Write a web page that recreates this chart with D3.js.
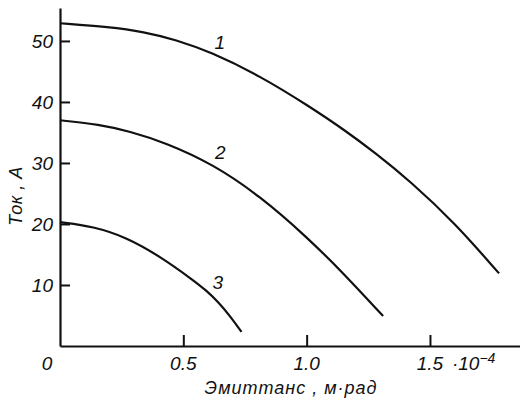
<!DOCTYPE html>
<html>
<head>
<meta charset="utf-8">
<script src="https://cdn.jsdelivr.net/npm/d3@7"></script>
<style>
  body { margin: 0; background: #fff; }
  text { font-family: "Liberation Sans", Arial, sans-serif; font-style: italic; fill: #111; }
</style>
</head>
<body>
<div id="chart"></div>
<script>
// curve 1
const emittance1 = [0, 0.20, 0.34, 0.47, 0.61, 0.81, 1.01, 1.15, 1.28, 1.42, 1.60, 1.78];
const current1 = [52.9, 52.3, 51.5, 50.2, 48.2, 44.3, 39.3, 35.5, 31.6, 27.0, 20.2, 11.9];
// curve 2
const emittance2 = [0, 0.16, 0.28, 0.43, 0.62, 0.81, 1.0, 1.15, 1.31];
const current2 = [37.0, 36.3, 35.2, 33.3, 29.8, 24.6, 17.9, 11.9, 4.9];
// curve 3
const emittance3 = [0, 0.135, 0.27, 0.405, 0.54, 0.59, 0.64, 0.69, 0.736];
const current3 = [20.3, 19.6, 17.8, 14.7, 10.8, 9.2, 7.3, 4.9, 2.3];

const curveNames = ["1", "2", "3"];
const labelAt = [[0.648, 49.9], [0.65, 31.8], [0.64, 10.5]];

const xTicks = [0.5, 1.0, 1.5];
const xTickLabels = ["0.5", "1.0", "1.5"];
const yTicks = [10, 20, 30, 40, 50];

const width = 520, height = 401;
const margin = { top: 8, right: 0, bottom: 55, left: 60 };

const svg = d3.select("#chart")
  .append("svg")
  .attr("width", width)
  .attr("height", height);

const x = d3.scaleLinear().domain([0, 1.865]).range([margin.left, width - margin.right]);
const y = d3.scaleLinear().domain([0, 55.4]).range([height - margin.bottom, margin.top]);

// axes, ticks pointing inwards
const xAxis = svg.append("g")
  .attr("transform", "translate(0," + y(0) + ")")
  .call(d3.axisBottom(x).tickValues(xTicks).tickSizeInner(-11).tickSizeOuter(0).tickFormat(""));
const yAxis = svg.append("g")
  .attr("transform", "translate(" + x(0) + ",0)")
  .call(d3.axisLeft(y).tickValues(yTicks).tickSizeInner(-10).tickSizeOuter(0).tickFormat(""));

[xAxis, yAxis].forEach(function (g) {
  g.select(".domain").attr("stroke", "#111").attr("stroke-width", 2.2);
  g.selectAll(".tick line").attr("stroke", "#111").attr("stroke-width", 2);
});

// tick labels
svg.selectAll("text.ylab")
  .data(yTicks)
  .enter()
  .append("text")
  .attr("class", "ylab")
  .attr("x", x(0) - 7)
  .attr("y", function (d) { return y(d) + 7; })
  .attr("text-anchor", "end")
  .style("font-size", "19px")
  .text(function (d) { return d; });

svg.selectAll("text.xlab")
  .data(xTicks)
  .enter()
  .append("text")
  .attr("class", "xlab")
  .attr("x", function (d) { return x(d); })
  .attr("y", y(0) + 24)
  .attr("text-anchor", "middle")
  .style("font-size", "19px")
  .text(function (d, i) { return xTickLabels[i]; });

svg.append("text")
  .attr("x", x(0) - 13)
  .attr("y", y(0) + 24)
  .attr("text-anchor", "middle")
  .style("font-size", "19px")
  .text("0");

// exponent after 1.5
const expo = svg.append("text")
  .attr("x", x(1.5) + 22)
  .attr("y", y(0) + 24)
  .style("font-size", "19px");
expo.append("tspan").text("·10");
expo.append("tspan").attr("dy", -7).style("font-size", "14px").text("−4");

// axis titles
svg.append("text")
  .attr("x", 291)
  .attr("y", 394)
  .attr("text-anchor", "middle")
  .style("font-size", "18px")
  .style("letter-spacing", "1px")
  .text("Эмиттанс , м·рад");

svg.append("text")
  .attr("transform", "translate(22,196) rotate(-90)")
  .attr("text-anchor", "middle")
  .style("font-size", "18px")
  .style("letter-spacing", "0.5px")
  .text("Ток , А");

// curves
const series = [
  d3.zip(emittance1, current1),
  d3.zip(emittance2, current2),
  d3.zip(emittance3, current3)
];

const line = d3.line()
  .x(function (d) { return x(d[0]); })
  .y(function (d) { return y(d[1]); })
  .curve(d3.curveBasis);

svg.selectAll("path.curve")
  .data(series)
  .enter()
  .append("path")
  .attr("class", "curve")
  .attr("fill", "none")
  .attr("stroke", "#111")
  .attr("stroke-width", 2.2)
  .attr("d", line);

svg.selectAll("text.cname")
  .data(curveNames)
  .enter()
  .append("text")
  .attr("class", "cname")
  .attr("x", function (d, i) { return x(labelAt[i][0]); })
  .attr("y", function (d, i) { return y(labelAt[i][1]) + 7; })
  .attr("text-anchor", "middle")
  .style("font-size", "19px")
  .text(function (d) { return d; });
</script>
</body>
</html>
